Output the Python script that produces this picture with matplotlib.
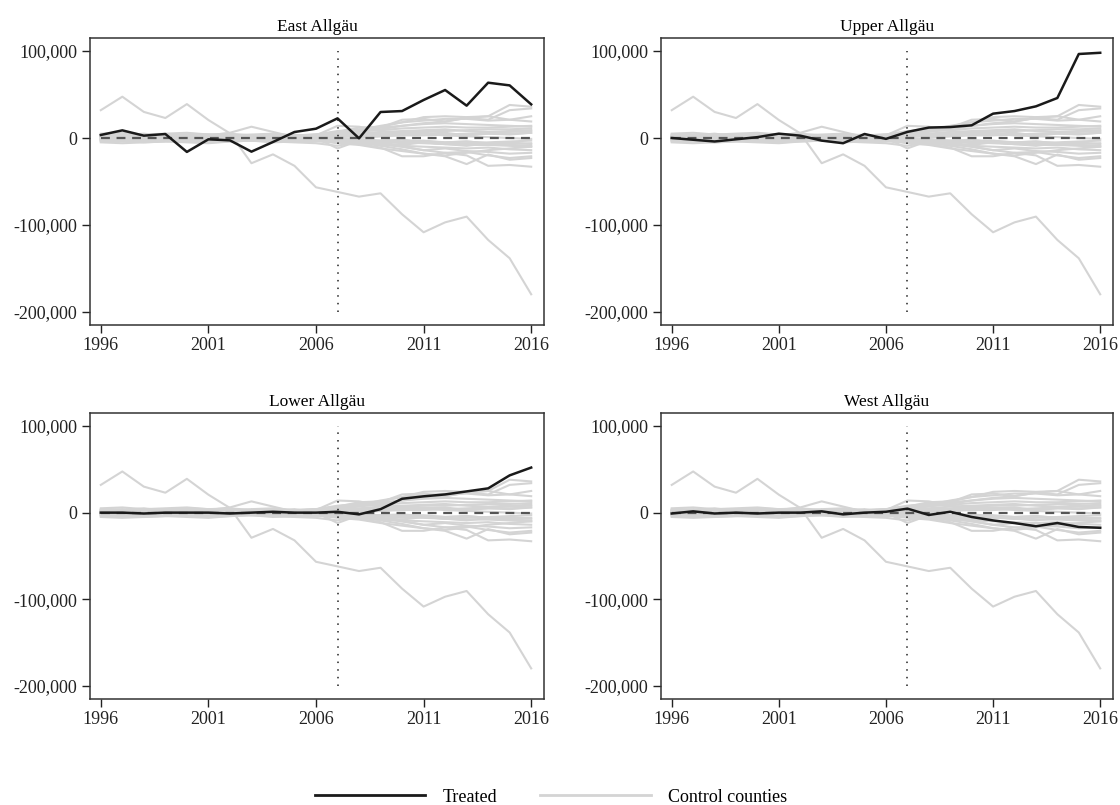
import matplotlib
matplotlib.use("Agg")
from matplotlib import pyplot as plt
from matplotlib.lines import Line2D
from matplotlib.ticker import FuncFormatter

plt.rcParams['font.family'] = ['Liberation Serif', 'DejaVu Serif']

years = list(range(1996, 2017))
panel_names = ["East Allgäu", "Upper Allgäu", "Lower Allgäu", "West Allgäu"]

# treated counties, values in thousands
east = [3.5, 8.8, 2.7, 4.6, -16, -1.5, -2.7, -15.7, -4.6, 6.9, 10.7, 22.6, -0.4, 29.9, 31, 43.7, 55.2, 37.2, 63.6, 60.5, 38.7]
upper = [0, -2, -4, -1.5, 1, 5, 2.7, -3, -6, 4.6, -1, 7, 12, 12.6, 14.6, 28, 31, 36.4, 46, 96.6, 98]
lower = [0, 0, -1, 0, 0, 0, -1, 0, 1, 0, 0, 1, -2, 4, 16, 18.8, 21, 24.5, 28, 43, 52]
west = [-1, 1.5, -1, 0, -1, 0, 0, 1.5, -2, 0, 1, 4.6, -2.7, 1, -5, -9, -12, -15.7, -12, -16.5, -17.5]
treated = [east, upper, lower, west]

# control counties, values in thousands (same for every panel)
controls = [
    [32, 47.5, 30, 23, 39, 20.7, 5.4, -29, -18.8, -32, -56.7, -62, -67.4, -63.6, -87.7, -108.4, -97, -90.4, -117.2, -138.3, -179.7],
    [-2, -1, 1, 0, 2, 3, 6, 13, 7, 1, -1, -4, 0, 2, 4, 5, 6, 3, 5, 4, 6],
    [3, 2, 4, 3, 2, 3, 2, 1, 2, 3, 4, 6, 8, 9, 11, 12, 13, 12, 12, 13, 14],
    [-3, -4, -3, -2, -3, -4, -3, -2, -3, -4, -3, -5, -6, -8, -9, -10, -11, -12, -11, -13, -14],
    [1, 2, 1, 0, 1, 2, 1, 0, 1, 0, 2, 3, 4, 5, 7, 8, 8, 9, 10, 10, 11],
    [-1, -2, -1, -2, -1, 0, -1, -2, -1, -2, -1, -2, -3, -4, -5, -6, -7, -8, -8, -9, -10],
    [5, 6, 4, 5, 6, 4, 3, 4, 5, 3, 4, 8, 10, 12, 14, 16, 17, 16, 15, 14, 13],
    [-5, -6, -5, -4, -5, -6, -4, -3, -4, -5, -6, -9, -4, -7, -10, -14, -12, -15, -16, -18, -17],
    [0, 1, 0, 1, 0, -1, 0, 1, 0, -1, 0, 1, 2, 2, 3, 3, 4, 4, 5, 5, 6],
    [2, 0, 3, 1, 2, 1, 0, 1, 2, 1, 0, -1, -2, -3, -2, -4, -5, -4, -6, -5, -7],
    [-2, -1, -3, -2, 0, -1, -2, -1, -3, -2, 3, 14, 13, 8, 6, 5, 3, 2, 1, 0, -1],
    [4, 3, 5, 2, 3, 4, 5, 3, 2, 4, 0, -12, -3, -6, -8, -5, -7, -9, -6, -8, -9],
    [1, 0, 2, 1, 0, 1, 2, 3, 1, 2, 4, 7, 12, 13, 18, 20, 22, 22, 20, 21, 19],
    [-4, -3, -5, -4, -3, -5, -4, -3, -5, -4, -3, -6, -8, -12, -15, -18, -20, -17, -14, -12, -10],
    [3, 4, 2, 3, 5, 4, 2, 3, 4, 2, 3, 4, 5, 7, 8, 9, 10, 8, 7, 8, 9],
    [-2, -3, -4, -3, -2, -3, -1, -2, -3, -1, -2, -3, -5, -4, -6, -5, -7, -6, -5, -4, -3],
    [0, 1, 2, 1, 0, 1, 2, 3, 2, 1, 3, 5, 9, 14, 18, 24, 25, 24, 25, 38, 36],
    [-1, 0, 1, 2, 1, 0, 1, 2, 1, 2, 3, 6, 8, 12, 21, 22, 19, 23, 21, 32, 34],
    [2, 1, 0, 1, 3, 2, 1, 0, 2, 3, 1, 4, 7, 10, 14, 17, 19, 23, 25, 21, 25],
    [-1, -2, 0, -1, -2, -1, 0, -2, -1, 0, -2, -3, -5, -9, -13, -18, -21, -30, -19, -25, -23],
    [1, 0, -1, 0, 1, -1, -2, -1, 0, -1, 1, -2, -4, -6, -10, -14, -17, -20, -32, -31, -33],
    [-3, -2, -1, -3, -2, -3, -2, -1, -2, -3, -4, -4, -7, -11, -21, -21, -17, -16, -20, -23, -21],
    [2, 3, 1, 2, 4, 3, 1, 2, 3, 1, 2, 1, 3, 4, 5, 6, 4, 5, 6, 7, 8],
    [-1, -3, -2, -1, -3, -2, -1, -3, -2, -1, -2, -1, -2, -3, -4, -3, -5, -4, -6, -7, -6],
]

xticks = [1996, 2001, 2006, 2011, 2016]
yticks = [-200000, -100000, 0, 100000]

fig = plt.figure(figsize=(11.2, 8.05), dpi=100)
positions = [
    [0.0804, 0.5963, 0.4054, 0.3565],
    [0.5902, 0.5963, 0.4036, 0.3565],
    [0.0804, 0.1317, 0.4054, 0.3553],
    [0.5902, 0.1317, 0.4036, 0.3553],
]

gray = '#d4d4d4'
for pos, name, tr in zip(positions, panel_names, treated):
    ax = fig.add_axes(pos)
    for c in controls:
        ax.plot(years, [v * 1000 for v in c], color=gray, lw=1.5, zorder=1)
    ax.hlines(0, 1996, 2016, colors='#555555', linestyles=(0, (4, 3)), lw=1.6, zorder=2)
    ax.vlines(2007, -200000, 100000, colors='#222222', linestyles=(0, (1, 4)), lw=1.1, zorder=2)
    ax.plot(years, [v * 1000 for v in tr], color='#1a1a1a', lw=1.8, zorder=3)
    ax.set_xlim(1995.5, 2016.6)
    ax.set_ylim(-215000, 115000)
    ax.set_xticks(xticks)
    ax.set_yticks(yticks)
    ax.yaxis.set_major_formatter(FuncFormatter(lambda v, p: f"{int(v):,}"))
    ax.tick_params(direction='out', length=6, width=1, pad=3, labelsize=13, colors='#222222')
    for s in ax.spines.values():
        s.set_color('#333333')
        s.set_linewidth(1.1)
    ax.set_title(name, fontsize=12.5, pad=5)

handles = [Line2D([], [], color='#1a1a1a', lw=2),
           Line2D([], [], color=gray, lw=2)]
fig.legend(handles, ["Treated", "Control counties"], loc='lower center',
           bbox_to_anchor=(0.492, -0.021), ncol=2, frameon=False, fontsize=13,
           handlelength=6.1, handletextpad=0.95, columnspacing=2.4)

fig.savefig("out.png", dpi=100)
